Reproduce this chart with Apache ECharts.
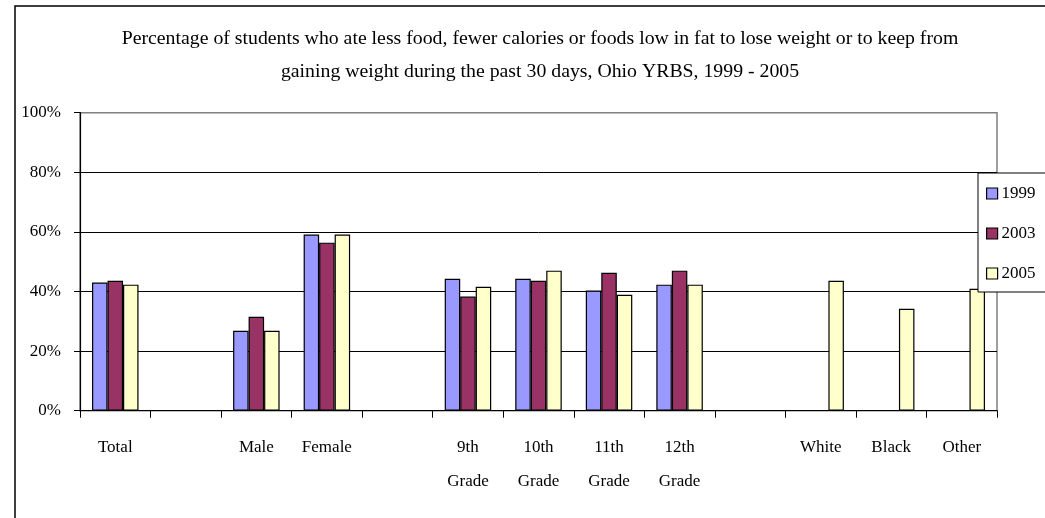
<!DOCTYPE html>
<html>
<head>
<meta charset="utf-8">
<script src="https://cdn.jsdelivr.net/npm/echarts@6/dist/echarts.min.js"></script>
<style>
  html, body { margin: 0; padding: 0; background: #fff; }
  #chart { width: 1045px; height: 518px; }
</style>
</head>
<body>
<div id="chart"></div>
<script>
// Groups along the x axis; empty strings leave spacer slots between groups
const categories = ['Total', '', 'Male', 'Female', '', '9th\nGrade', '10th\nGrade', '11th\nGrade', '12th\nGrade', '', 'White', 'Black', 'Other'];

// Percent of students, by survey year (null = not reported)
const y1999 = [43.0, null, 26.8, 59.1, null, 44.3, 44.3, 40.3, 42.3, null, null, null, null];
const y2003 = [43.6, null, 31.5, 56.4, null, 38.3, 43.6, 46.3, 47.0, null, null, null, null];
const y2005 = [42.3, null, 26.8, 59.1, null, 41.6, 47.0, 38.9, 42.3, null, 43.6, 34.2, 40.9];

const yTicks = [0, 20, 40, 60, 80, 100];

const titleLines = [
  'Percentage of students who ate less food, fewer calories or foods low in fat to lose weight or to keep from',
  'gaining weight during the past 30 days, Ohio YRBS, 1999 - 2005'
];

const FONT = 'Liberation Serif';

const chart = echarts.init(document.getElementById('chart'));

function barSeries(name, data, color) {
  return {
    name: name,
    type: 'bar',
    data: data,
    barWidth: 15.5,
    barGap: '0%',
    itemStyle: { color: color, borderColor: '#000', borderWidth: 1.2 },
    emphasis: { disabled: true }
  };
}

chart.setOption({
  animation: false,
  backgroundColor: '#fff',
  textStyle: { fontFamily: FONT },
  graphic: [
    {
      // chart frame (runs off the right and bottom edges)
      type: 'rect',
      shape: { x: 15, y: 6, width: 1100, height: 600 },
      style: { fill: 'none', stroke: '#000', lineWidth: 1.5 },
      z: -1
    },
    {
      type: 'text',
      x: 540,
      y: 55.5,
      style: {
        text: titleLines.join('\n'),
        font: '19.8px "' + FONT + '"',
        lineHeight: 33,
        fill: '#000',
        align: 'center',
        verticalAlign: 'middle'
      }
    }
  ],
  legend: {
    orient: 'vertical',
    left: 978,
    top: 173,
    padding: [12, 20, 10, 8],
    itemGap: 23,
    itemWidth: 11,
    itemHeight: 11,
    icon: 'rect',
    backgroundColor: '#fff',
    borderColor: '#000',
    borderWidth: 1,
    textStyle: { fontFamily: FONT, fontSize: 17, color: '#000', padding: [0, 0, 0, -1] },
    itemStyle: { borderColor: '#000', borderWidth: 1.2 },
    data: ['1999', '2003', '2005']
  },
  grid: {
    left: 80,
    right: 48,
    top: 112.7,
    bottom: 107.3,
    show: true,
    borderColor: '#808080',
    borderWidth: 1.5
  },
  xAxis: {
    type: 'category',
    data: categories,
    axisLine: { lineStyle: { color: '#000', width: 1.2 } },
    axisTick: { show: true, length: 7, interval: 0, lineStyle: { color: '#000' } },
    axisLabel: {
      interval: 0,
      margin: 20,
      fontFamily: FONT,
      fontSize: 17,
      lineHeight: 34,
      color: '#000'
    }
  },
  yAxis: {
    type: 'value',
    min: 0,
    max: 100,
    interval: 20,
    axisLine: { show: true, lineStyle: { color: '#000', width: 1.2 } },
    axisTick: { show: true, length: 6, lineStyle: { color: '#000' } },
    axisLabel: {
      margin: 19,
      fontFamily: FONT,
      fontSize: 17,
      color: '#000',
      formatter: function (v) { return yTicks.indexOf(v) >= 0 ? v + '%' : ''; }
    },
    splitLine: {
      show: true,
      lineStyle: { color: ['#000', '#000', '#000', '#000', '#000', '#808080'], width: 1 }
    }
  },
  series: [
    barSeries('1999', y1999, '#9999FF'),
    barSeries('2003', y2003, '#993366'),
    barSeries('2005', y2005, '#FFFFCC')
  ]
});
</script>
</body>
</html>
